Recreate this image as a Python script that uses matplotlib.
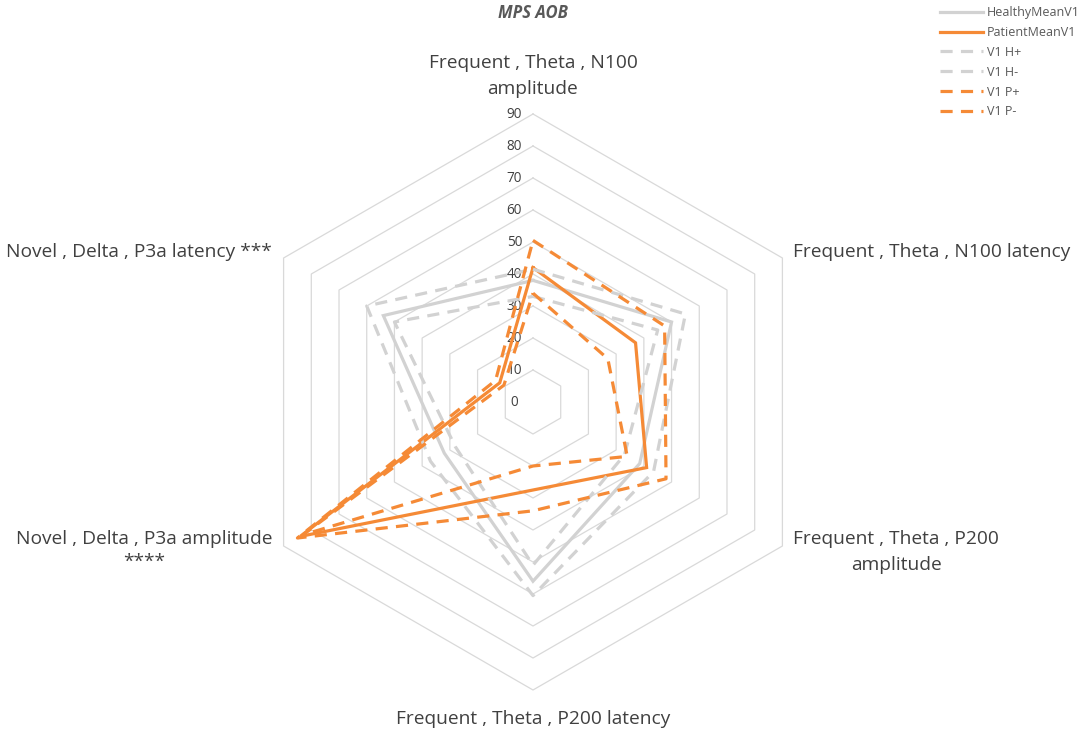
import numpy as np
import matplotlib
matplotlib.use("Agg")
import matplotlib.pyplot as plt

plt.rcParams['font.family'] = ['Open Sans', 'DejaVu Sans']

# axis order: clockwise from the top
categories = ["Frequent , Theta , N100\namplitude",
              "Frequent , Theta , N100 latency",
              "Frequent , Theta , P200\namplitude",
              "Frequent , Theta , P200 latency",
              "Novel , Delta , P3a amplitude\n****",
              "Novel , Delta , P3a latency ***"]

healthy_mean = [38, 50, 38.5, 56, 32, 54]
patient_mean = [42, 37, 41, 27.5, 84, 12]
h_plus = [41.5, 55, 43.5, 60.5, 37, 60]
h_minus = [33, 45, 33, 51, 28, 50]
p_plus = [50.5, 47.5, 48, 34, 85, 13.5]
p_minus = [34, 27, 34, 20, 83, 10.5]

ring_ticks = list(range(0, 100, 10))

grey = '#D2D2D2'
orange = '#F58A36'
txt = '#404040'

n = len(categories)
ang = np.pi / 2 - 2 * np.pi * np.arange(n) / n


def xy(vals):
    v = np.append(vals, vals[0])
    a = np.append(ang, ang[0])
    return v * np.cos(a), v * np.sin(a)


fig = plt.figure(figsize=(10.84, 7.30), dpi=100)
ax = fig.add_axes([0, 0, 1, 1])
# 1 value unit = 3.2 px, centre at (533, 402) px from top-left
ax.set_xlim(-533 / 3.2, (1084 - 533) / 3.2)
ax.set_ylim(-(730 - 402) / 3.2, 402 / 3.2)
ax.axis('off')

# hexagon rings
for t in ring_ticks[1:]:
    gx, gy = xy(np.full(n, t))
    ax.plot(gx, gy, color='#D9D9D9', lw=0.9, zorder=1)
for t in ring_ticks:
    ax.text(-5.8, t, str(t), ha='center', va='center', fontsize=9.8, color=txt)

series = [
    ("HealthyMeanV1", healthy_mean, grey, '-'),
    ("PatientMeanV1", patient_mean, orange, '-'),
    ("V1 H+", h_plus, grey, '--'),
    ("V1 H-", h_minus, grey, '--'),
    ("V1 P+", p_plus, orange, '--'),
    ("V1 P-", p_minus, orange, '--'),
]
for name, vals, col, ls in series:
    sx, sy = xy(vals)
    line, = ax.plot(sx, sy, color=col, lw=2.3, ls=ls, label=name, zorder=3,
                    solid_joinstyle='miter')
    if ls == '--':
        line.set_dashes((3.8, 2.6))

# category labels
fs = 13.8
ax.text(0, 90 + 5.0, categories[0], ha='center', va='bottom', fontsize=fs,
        color=txt, linespacing=1.55)
ax.text(90 * np.cos(ang[1]) + 3.4, 90 * np.sin(ang[1]) + 1.8, categories[1],
        ha='left', va='center', fontsize=fs, color=txt)
ax.text(90 * np.cos(ang[2]) + 3.4, 90 * np.sin(ang[2]) - 1.9, categories[2],
        ha='left', va='center', fontsize=fs, color=txt, linespacing=1.55,
        multialignment='center')
ax.text(0, -90 - 6.2, categories[3], ha='center', va='top', fontsize=fs,
        color=txt)
ax.text(90 * np.cos(ang[4]) - 3.6, 90 * np.sin(ang[4]) - 1.4, categories[4],
        ha='right', va='center', fontsize=fs, color=txt, linespacing=1.4,
        multialignment='center')
ax.text(90 * np.cos(ang[5]) - 3.6, 90 * np.sin(ang[5]) + 1.8, categories[5],
        ha='right', va='center', fontsize=fs, color=txt)

fig.text(533 / 1084, 1 - 13 / 730, "MPS AOB", ha='center', va='center',
         fontsize=12, fontweight='bold', fontstyle='italic', color='#595959')

leg = ax.legend(loc='upper left', bbox_to_anchor=(935 / 1084, 1 - 1 / 730),
                bbox_transform=fig.transFigure, frameon=False, fontsize=9,
                handlelength=3.4, handletextpad=0.35, labelspacing=0.55,
                borderaxespad=0)
for t in leg.get_texts():
    t.set_color('#595959')

fig.savefig("out.png", dpi=100)
